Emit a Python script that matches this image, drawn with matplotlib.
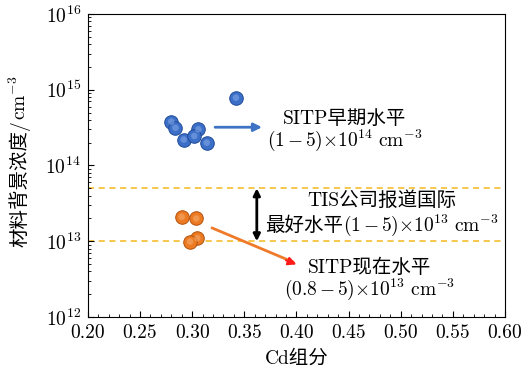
import matplotlib
matplotlib.use("Agg")
import matplotlib.pyplot as plt
from matplotlib.ticker import LogLocator, MultipleLocator
from matplotlib.transforms import offset_copy

plt.rcParams['font.family'] = ['cmr10', 'Noto Sans CJK SC']
plt.rcParams['mathtext.fontset'] = 'cm'
plt.rcParams['axes.formatter.use_mathtext'] = True

blue_x = [0.280, 0.284, 0.292, 0.306, 0.302, 0.314, 0.342]
blue_y = [3.8e14, 3.15e14, 2.2e14, 3.0e14, 2.45e14, 2.0e14, 7.85e14]
orange_x = [0.290, 0.304, 0.305, 0.298]
orange_y = [2.1e13, 2.0e13, 1.1e13, 9.9e12]
tis_levels = [5e13, 1e13]
xticks = [0.20, 0.25, 0.30, 0.35, 0.40, 0.45, 0.50, 0.55, 0.60]

fs = 14
fig = plt.figure(figsize=(5.23, 3.74), dpi=100)
ax = fig.add_axes([0.168, 0.1524, 0.7976, 0.8102])
ax.set_xlim(0.2, 0.6)
ax.set_yscale('log')
ax.set_ylim(1e12, 1e16)

for lv in tis_levels:
    ax.axhline(lv, color='#f5b81c', ls=(0, (4, 3)), lw=1.1, zorder=1)

def spheres(xs, ys, base, dark, light):
    ax.scatter(xs, ys, s=95, color=base, edgecolors=dark, linewidths=0.7, zorder=3)
    ax.scatter(xs, ys, s=22, color=light, edgecolors='none', alpha=0.5, zorder=4)

spheres(blue_x, blue_y, '#3c6fc8', '#1f4a99', '#8fb0ea')
spheres(orange_x, orange_y, '#ec7a22', '#b3520d', '#f7b37a')

# arrows
ax.annotate('', xy=(0.367, 3.2e14), xytext=(0.322, 3.2e14),
            arrowprops=dict(arrowstyle='-|>', color='#3d72c4', lw=2, mutation_scale=12,
                            shrinkA=0, shrinkB=0))
ax.annotate('', xy=(0.397, 5.3e12), xytext=(0.319, 1.5e13),
            arrowprops=dict(arrowstyle='-', color='#ee7a2a', lw=2, shrinkA=0, shrinkB=0))
ax.annotate('', xy=(0.400, 4.95e12), xytext=(0.390, 5.6e12),
            arrowprops=dict(arrowstyle='-|>', color='#ff1a1a', lw=1.5, mutation_scale=12,
                            shrinkA=0, shrinkB=0))
ax.annotate('', xy=(0.362, 1e13), xytext=(0.362, 5e13),
            arrowprops=dict(arrowstyle='<|-|>', color='black', lw=2, mutation_scale=10,
                            shrinkA=0, shrinkB=0))

ax.text(0.4465, 4.15e14, 'SITP早期水平', fontsize=fs, ha='center', va='center')
ax.text(0.4465, 2.15e14, r'$(1\,{-}\,5){\times}10^{14}\ \mathrm{cm}^{-3}$', fontsize=fs,
        ha='center', va='center')
ax.text(0.482, 3.4e13, 'TIS公司报道国际', fontsize=fs, ha='center', va='center')
ax.text(0.4705, 4.5e12, 'SITP现在水平', fontsize=fs, ha='center', va='center')
ax.text(0.4705, 2.3e12, r'$(0.8\,{-}\,5){\times}10^{13}\ \mathrm{cm}^{-3}$', fontsize=fs,
        ha='center', va='center')

# mixed Chinese + math line, built from two pieces centred together
fig.canvas.draw()
renderer = fig.canvas.get_renderer()
ta = ax.text(0, 0, '最好水平', fontsize=fs, va='center', ha='left')
tb = ax.text(0, 0, r'$(1\,{-}\,5){\times}10^{13}\ \mathrm{cm}^{-3}$', fontsize=fs,
             va='center', ha='left')
wa = ta.get_window_extent(renderer).width
wb = tb.get_window_extent(renderer).width
cx, cy = 0.482, 1.6e13
start = -(wa + wb) / 2
ta.set_position((cx, cy))
ta.set_transform(offset_copy(ax.transData, fig, x=start, y=0, units='dots'))
tb.set_position((cx, cy))
tb.set_transform(offset_copy(ax.transData, fig, x=start + wa, y=0, units='dots'))

ax.set_xticks(xticks)
ax.set_xticklabels([f'{t:.2f}' for t in xticks])
ax.xaxis.set_minor_locator(MultipleLocator(0.01))
ax.yaxis.set_major_locator(LogLocator(base=10, numticks=10))
ax.yaxis.set_minor_locator(LogLocator(base=10, subs=range(2, 10), numticks=20))
ax.tick_params(which='both', direction='in', labelsize=fs)
ax.tick_params(which='major', length=4)
ax.tick_params(which='minor', length=2)
ax.tick_params(axis='x', pad=5)
ax.tick_params(axis='y', pad=5)

ax.set_xlabel('Cd组分', fontsize=fs, labelpad=6)

# y label: Chinese part + math superscript part, stacked vertically
ya = fig.text(0, 0, '材料背景浓度/', fontsize=fs, rotation=90, ha='center', va='bottom')
yb = fig.text(0, 0, r'$\mathrm{cm}^{-3}$', fontsize=fs, rotation=90, ha='center', va='bottom')
fig.canvas.draw()
ha_ = ya.get_window_extent(renderer).height
hb_ = yb.get_window_extent(renderer).height
ycen = 374 - 161
xcen = 20
y0 = ycen - (ha_ + hb_) / 2
ya.set_transform(offset_copy(fig.transFigure, fig, x=xcen, y=y0, units='dots'))
yb.set_transform(offset_copy(fig.transFigure, fig, x=xcen - 1, y=y0 + ha_, units='dots'))

fig.savefig('out.png', dpi=100)
